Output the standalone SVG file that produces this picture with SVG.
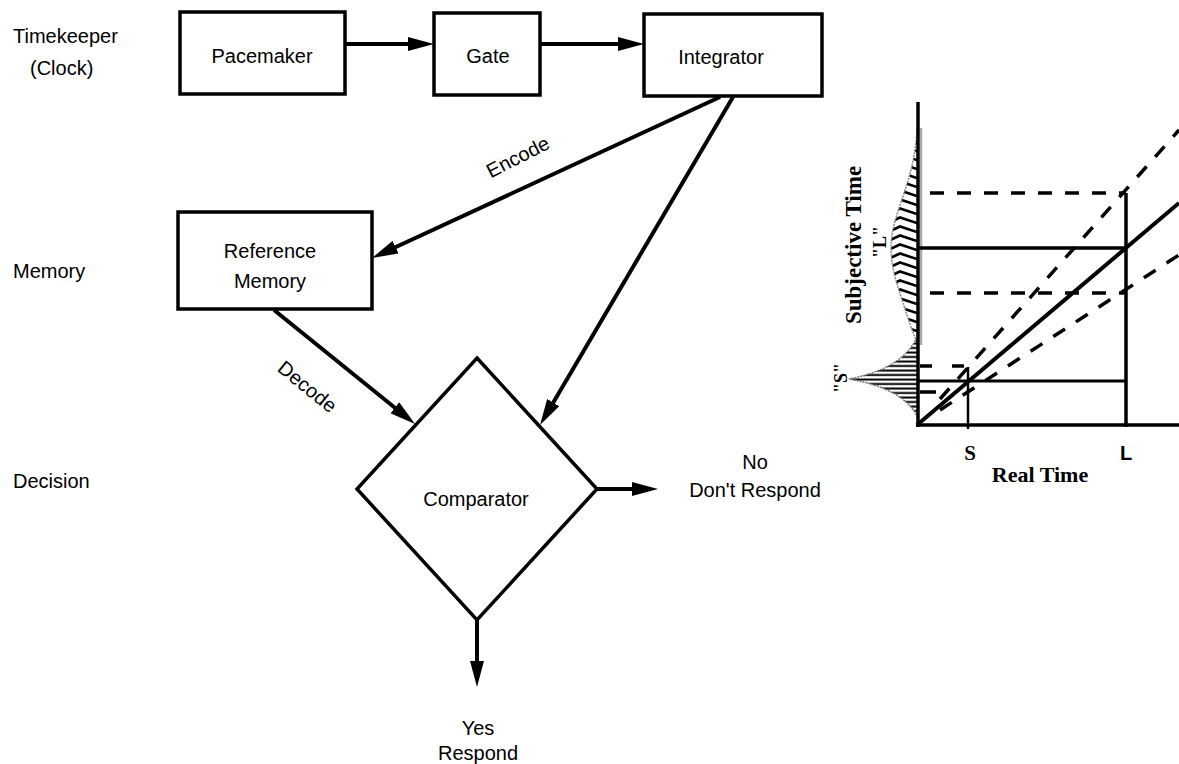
<svg xmlns="http://www.w3.org/2000/svg" width="1179" height="764" viewBox="0 0 1179 764">
<defs>
<style>
.lbl{font-family:"Liberation Sans",Arial,sans-serif;font-size:20px;fill:#000}
.mid{text-anchor:middle}
.box{fill:#fff;stroke:#000;stroke-width:3.5}
.conn{stroke:#000;stroke-width:4;fill:none}
.ser{font-family:"Liberation Serif","Times New Roman",serif;font-weight:bold;fill:#000}
.ax{stroke:#000;stroke-width:3.5;fill:none}
.dash{stroke:#000;stroke-width:3.5;fill:none;stroke-dasharray:14 13}
</style>
<marker id="ah" markerUnits="userSpaceOnUse" markerWidth="26" markerHeight="14" refX="14" refY="7" orient="auto">
<path d="M0,0 L26,7 L0,14 Z" fill="#000"/>
</marker>
<pattern id="chev" patternUnits="userSpaceOnUse" x="886" y="0" width="34" height="9">
<polyline points="0,8 14,1.5 34,8" fill="none" stroke="#000" stroke-width="2.6"/>
</pattern>
<pattern id="hlines" patternUnits="userSpaceOnUse" x="0" y="0" width="10" height="4.5">
<line x1="0" y1="1.5" x2="10" y2="1.5" stroke="#000" stroke-width="2"/>
</pattern>
</defs>
<rect width="1179" height="764" fill="#fff"/>

<g id="level-labels">
<text class="lbl" x="13" y="43">Timekeeper</text>
<text class="lbl" x="30" y="75">(Clock)</text>
<text class="lbl" x="13" y="278">Memory</text>
<text class="lbl" x="13" y="488">Decision</text>
</g>

<g id="pacemaker">
<rect class="box" x="180" y="12" width="165" height="82"/>
<text class="lbl mid" x="262" y="63">Pacemaker</text>
</g>
<g id="gate">
<rect class="box" x="434" y="13" width="106" height="82"/>
<text class="lbl mid" x="488" y="63">Gate</text>
</g>
<g id="integrator">
<rect class="box" x="644" y="14" width="178" height="82"/>
<text class="lbl mid" x="721" y="64">Integrator</text>
</g>
<g id="reference-memory">
<rect class="box" x="178" y="212" width="194" height="97"/>
<text class="lbl mid" x="270" y="258">Reference</text>
<text class="lbl mid" x="270" y="288">Memory</text>
</g>
<g id="comparator">
<polygon points="477,358 597,489 477,620 357,489" fill="#fff" stroke="#000" stroke-width="3.5" stroke-linejoin="miter"/>
<text class="lbl mid" x="476" y="506">Comparator</text>
</g>
<g id="outcome-no">
<text class="lbl mid" x="755" y="469">No</text>
<text class="lbl mid" x="755" y="497">Don't Respond</text>
</g>
<g id="outcome-yes">
<text class="lbl mid" x="478" y="735">Yes</text>
<text class="lbl mid" x="478" y="760">Respond</text>
</g>

<g id="connectors">
<line class="conn" x1="345" y1="44" x2="422" y2="44" marker-end="url(#ah)"/>
<line class="conn" x1="540" y1="44" x2="632" y2="44" marker-end="url(#ah)"/>
<line class="conn" x1="720" y1="97" x2="382.9" y2="253" marker-end="url(#ah)"/>
<line class="conn" x1="733" y1="97" x2="546.1" y2="414.7" marker-end="url(#ah)"/>
<line class="conn" x1="274" y1="310" x2="405.7" y2="416.5" marker-end="url(#ah)"/>
<line class="conn" x1="597" y1="489" x2="646" y2="489" marker-end="url(#ah)"/>
<line class="conn" x1="477" y1="620" x2="477" y2="675" marker-end="url(#ah)"/>
<text class="lbl mid" transform="translate(521,163) rotate(-27)">Encode</text>
<text class="lbl mid" transform="translate(303,392) rotate(39)">Decode</text>
</g>

<g id="graph">
<path d="M918,122 C916,150 912,170 905,190 C898,212 891,228 891,248 C891,270 899,290 906,312 C910,325 914,335 918,345 Z" fill="url(#chev)" stroke="#888" stroke-width="1.5" stroke-dasharray="2 1"/>
<path d="M918,335 Q905,368 849,379 Q905,389 918,418 Z" fill="url(#hlines)" stroke="#777" stroke-width="1.5" stroke-dasharray="2 1"/>
<line x1="921" y1="128" x2="921" y2="345" stroke="#aaa" stroke-width="2.5"/>
<line class="ax" x1="918" y1="102" x2="918" y2="427"/>
<line class="ax" x1="916" y1="425" x2="1179" y2="425"/>
<line class="ax" x1="1126" y1="193" x2="1126" y2="427"/>
<line x1="968" y1="367" x2="968" y2="429" stroke="#000" stroke-width="2.5"/>
<line x1="918" y1="381" x2="1126" y2="381" stroke="#000" stroke-width="3"/>
<line x1="918" y1="248" x2="1126" y2="248" stroke="#000" stroke-width="3.5"/>
<line class="dash" x1="930" y1="193" x2="1126" y2="193"/>
<line class="dash" x1="930" y1="293" x2="1126" y2="293"/>
<line class="dash" x1="920" y1="366" x2="966" y2="366" style="stroke-dasharray:12 20"/>
<line x1="920" y1="392" x2="936" y2="392" stroke="#000" stroke-width="3.5"/>
<line x1="917" y1="425" x2="1179" y2="203" stroke="#000" stroke-width="4"/>
<line class="dash" x1="940" y1="399" x2="1179" y2="130"/>
<line class="dash" x1="940" y1="410" x2="1179" y2="255"/>
<text class="ser mid" font-size="18" transform="translate(886,242) rotate(-90)">"L"</text>
<text class="ser mid" font-size="18" transform="translate(847,378) rotate(-90)">"S"</text>
<text class="ser mid" font-size="23" transform="translate(861,245) rotate(-90)">Subjective Time</text>
<text class="ser mid" font-size="21" x="970" y="460">S</text>
<text class="mid" font-family="Liberation Sans,Arial,sans-serif" font-weight="bold" font-size="20" x="1126" y="460">L</text>
<text class="ser mid" font-size="22" x="1040" y="482">Real Time</text>
</g>
</svg>
